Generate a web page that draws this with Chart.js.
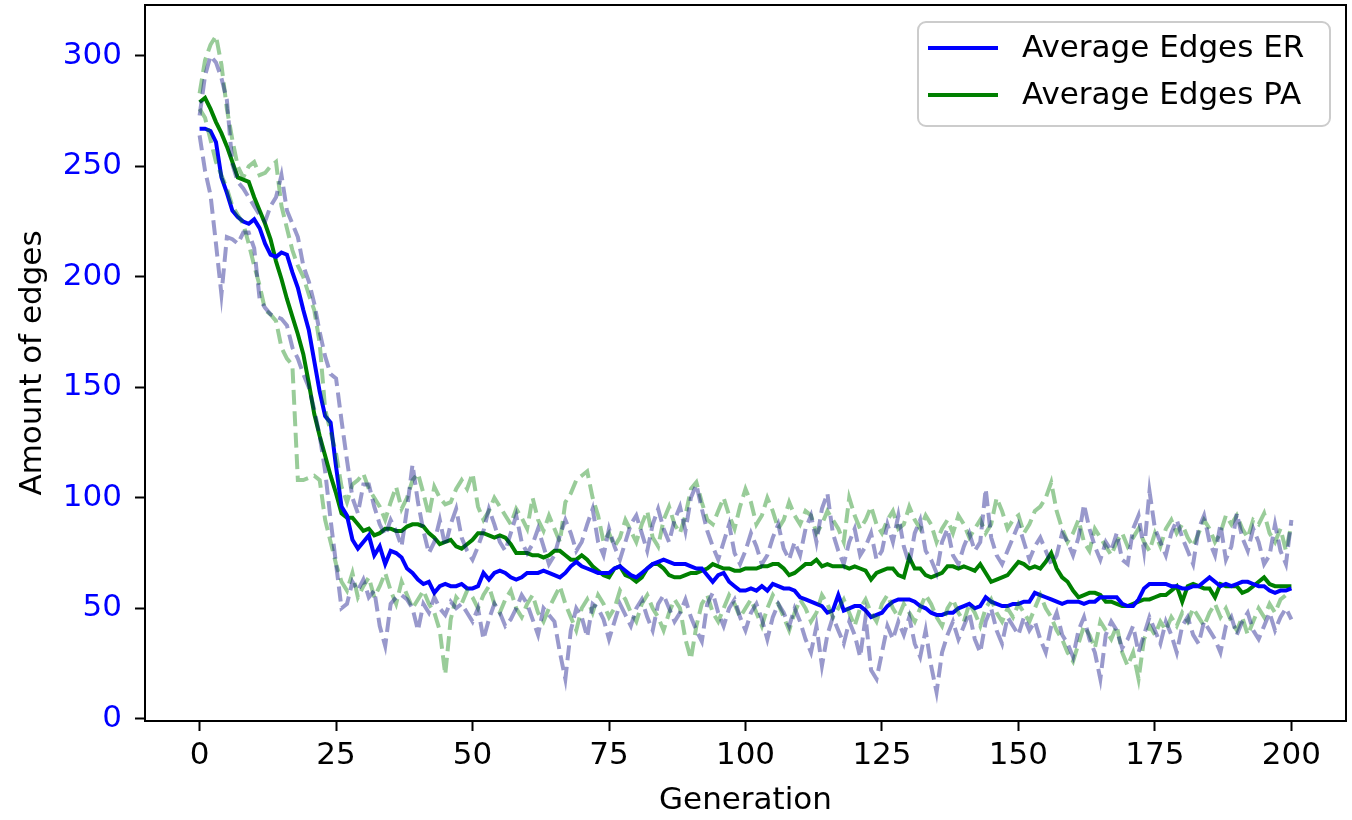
<!DOCTYPE html>
<html>
<head>
<meta charset="utf-8">
<script src="https://cdn.jsdelivr.net/npm/chart.js@4.4.1/dist/chart.umd.min.js"></script>
<style>
  body { margin: 0; background: #ffffff; }
  canvas { display: block; }
</style>
</head>
<body>
<canvas id="edges" width="1352" height="820"></canvas>
<script>
// generations 0..200
const generations = Array.from({ length: 201 }, (_, i) => i);
const xTicks = [0, 25, 50, 75, 100, 125, 150, 175, 200];
const yTicks = [0, 50, 100, 150, 200, 250, 300];

const avgER = [
  267, 267, 266, 261, 245, 238, 230, 227, 225, 224,
  226, 222, 215, 210, 209, 211, 210, 202, 195, 185,
  176, 162, 148, 137, 134, 114, 96, 92, 81, 77,
  80, 83, 74, 78, 70, 76, 75, 73, 68, 66,
  63, 61, 62, 57, 60, 61, 60, 60, 61, 59,
  59, 60, 66, 63, 66, 67, 66, 64, 63, 64,
  66, 66, 66, 67, 66, 65, 64, 66, 69, 71,
  69, 68, 67, 66, 66, 66, 68, 69, 67, 65,
  64, 66, 68, 70, 71, 72, 71, 70, 70, 70,
  69, 68, 68, 65, 62, 65, 66, 62, 60, 58,
  58, 59, 58, 60, 58, 61, 60, 59, 59, 58,
  55, 54, 53, 52, 51, 48, 49, 56, 49, 50,
  51, 51, 49, 46, 47, 48, 51, 53, 54, 54,
  54, 53, 51, 50, 48, 47, 47, 48, 48, 50,
  51, 52, 50, 51, 55, 53, 52, 51, 51, 52,
  52, 53, 53, 57, 56, 55, 54, 53, 52, 53,
  53, 53, 52, 53, 53, 55, 55, 55, 55, 52,
  51, 51, 54, 59, 61, 61, 61, 61, 60, 60,
  59, 59, 60, 60, 62, 64, 62, 60, 61, 60,
  61, 62, 62, 61, 60, 60, 58, 57, 58, 58,
  59
];

const avgPA = [
  279, 281, 276, 270, 265, 259, 252, 245, 244, 243,
  236, 230, 224, 217, 207, 199, 190, 182, 174, 165,
  152, 138, 128, 119, 110, 102, 93, 91, 91, 88,
  85, 86, 83, 84, 86, 86, 85, 85, 87, 88,
  88, 87, 84, 82, 79, 80, 81, 78, 77, 79,
  81, 84, 84, 83, 82, 83, 82, 79, 75, 75,
  75, 74, 74, 73, 74, 76, 76, 74, 72, 72,
  74, 72, 69, 67, 65, 64, 68, 69, 65, 64,
  62, 64, 68, 70, 70, 68, 65, 64, 64, 65,
  66, 66, 67, 68, 70, 69, 68, 68, 67, 67,
  68, 68, 68, 69, 69, 70, 70, 68, 65, 66,
  68, 70, 70, 72, 69, 70, 69, 69, 69, 68,
  69, 68, 67, 63, 66, 67, 68, 68, 65, 64,
  73, 68, 68, 65, 64, 65, 66, 69, 69, 68,
  69, 68, 67, 70, 66, 62, 63, 64, 65, 68,
  71, 70, 68, 69, 68, 71, 75, 68, 64, 62,
  58, 55, 56, 57, 57, 56, 53, 53, 52, 51,
  51, 52, 53, 54, 54, 55, 56, 56, 58, 60,
  53, 60, 61, 60, 59, 59, 55, 61, 60, 60,
  60, 57, 58, 60, 62, 64, 61, 60, 60, 60,
  60
];

// individual runs, dashed
const runER1 = [
  273, 291, 300, 297, 290, 280, 251, 243, 240, 236,
  232, 228, 225, 232, 236, 246, 230, 224, 218, 205,
  198, 188, 175, 164, 156, 154, 135, 117, 100, 93,
  106, 106, 96, 88, 83, 90, 85, 78, 95, 115,
  98, 85, 75, 80, 90, 78, 88, 95, 82, 76,
  72, 78, 85, 95, 88, 80, 76, 84, 92, 80,
  75, 79, 86, 78, 70, 74, 83, 90, 84, 76,
  80, 88, 95, 80, 74, 86, 78, 72, 80, 88,
  92, 84, 76, 88, 95, 86, 80, 90, 96, 85,
  100, 106, 95, 85, 78, 72, 80, 88, 75, 70,
  76, 84, 78, 70, 74, 82, 88, 77, 72, 80,
  74, 86, 92, 80, 95, 102, 84, 76, 70, 80,
  86, 74, 78, 84, 72, 76, 88, 80, 92, 78,
  70, 84, 90, 76, 72, 66, 80, 86, 74, 70,
  78, 84, 76, 80, 104, 82, 74, 70, 76, 82,
  88, 80, 72, 78, 82, 76, 70, 74, 84, 80,
  74, 82, 97, 86, 78, 72, 80, 76, 84, 72,
  70, 86, 92, 76, 103, 86, 80, 74, 84, 90,
  82, 76, 70, 86, 92, 80, 74, 88, 72, 78,
  93, 82, 76, 86, 80, 70, 74, 88, 76, 70,
  90
];

const runER2 = [
  264, 248, 237, 215, 192, 218, 217, 215, 220, 220,
  213, 190, 186, 183, 182, 181, 178, 168, 163, 156,
  150, 140, 128, 112, 90, 70, 50, 52, 62, 58,
  63, 55, 58, 42, 33, 52, 55, 56, 54, 50,
  40, 52, 48, 55, 50, 47, 53, 50, 52, 48,
  44, 50, 36, 45, 52, 48, 42, 45, 50, 56,
  52, 45, 38, 50, 47, 44, 30, 18, 40, 50,
  46, 37, 52, 50, 45, 36, 44, 52, 47, 42,
  50, 54, 46, 40, 52, 56, 50, 44, 48, 54,
  46, 40, 35, 52, 57, 48, 42, 50, 54, 46,
  40, 48, 52, 45, 36, 46, 52, 48, 42, 50,
  44, 36, 30, 42, 24, 38, 46, 40, 34, 44,
  38, 28, 46, 22, 18, 30, 42, 36, 44, 38,
  46, 34, 28, 40, 24, 12, 30, 38, 44, 36,
  42, 48, 36, 30, 44, 50, 40, 34, 46, 42,
  38, 46, 40, 44, 36, 30, 42, 48, 38, 34,
  28, 40, 46, 36, 30, 18, 38, 44, 40, 32,
  36, 42, 30, 38, 46, 40, 34, 44, 38, 30,
  42, 46, 38, 34, 44, 40, 36, 30, 42, 46,
  38, 44, 48, 40, 36, 42, 48, 40, 46, 50,
  45
];

const runPA1 = [
  283, 298, 305, 309, 296, 276, 262, 250, 245, 250,
  252, 246, 247, 250, 252, 232, 222, 212, 205, 200,
  192, 185, 170, 140, 130, 120, 105, 98, 106, 108,
  111, 104, 100, 96, 90, 98, 105, 95, 100, 108,
  111, 102, 92, 105, 100, 97, 98, 104, 108, 104,
  111, 96, 90, 94, 100, 96, 92, 88, 95, 91,
  86, 100, 90, 85, 92, 86, 80, 98, 102, 108,
  110, 112, 100, 92, 80, 84, 78, 82, 90, 85,
  80, 88, 94, 82, 78, 90, 96, 88, 84, 92,
  104, 107, 98, 90, 88, 94, 100, 92, 86, 96,
  104, 98, 88, 92, 100, 94, 86, 90, 98, 92,
  88, 94, 92, 84, 88, 94, 90, 86, 80, 100,
  92, 86, 90, 96, 88, 84, 90, 94, 86, 88,
  96, 90, 86, 92, 88, 80, 86, 90, 84, 92,
  88, 82, 86, 90, 84, 88, 100, 94, 86, 90,
  92, 84, 88, 94, 96, 100, 107, 94, 86, 80,
  84, 90, 80, 76, 86, 82, 78, 74, 80, 84,
  78, 82, 86, 80, 76, 84, 78, 86, 90, 84,
  88, 82, 78, 84, 90, 86, 80, 84, 92, 88,
  92, 86, 82, 90, 88, 93, 84, 80, 86, 76,
  88
];

const runPA2 = [
  276, 272, 262, 252, 246, 240, 232, 228, 224, 215,
  205, 196, 185, 183, 180, 168, 163, 160, 108, 108,
  109, 110, 108, 90, 80, 70, 62, 58, 66, 55,
  60, 64, 55, 60, 66, 58, 52, 62, 56, 50,
  54, 58, 52, 48, 40, 20, 45, 55, 52, 58,
  55, 50, 56, 60, 52, 48, 54, 58, 50, 46,
  52, 56, 48, 44, 50, 55, 60, 52, 46, 40,
  50, 54, 48, 56, 52, 46, 50, 58, 54, 48,
  44, 52, 56, 50, 46, 40, 48, 54, 50, 36,
  27, 42, 52, 56, 48, 44, 50, 56, 52, 46,
  50, 54, 48, 42, 50, 56, 52, 46, 40, 48,
  54, 50, 44, 48, 56, 52, 46, 50, 54, 48,
  42, 50, 54, 48, 44, 52, 56, 50, 46, 52,
  48, 44, 50, 56, 52, 46, 42, 50, 54, 48,
  44, 52, 48, 42, 50, 54, 48, 44, 50, 46,
  52, 48, 44, 50, 56, 50, 46, 40, 36, 30,
  26, 34, 42, 38, 32, 44, 40, 36, 42, 30,
  24, 30, 18, 36, 42, 38, 44, 40, 46, 42,
  48, 44, 50, 46, 42, 48, 52, 46, 50, 44,
  40, 46, 38, 44, 50, 46, 52, 48, 54, 56,
  55
];

const FONT = "'DejaVu Sans', sans-serif";

function pts(values) {
  return values.map((v, i) => ({ x: generations[i], y: v }));
}

function runLine(values, color) {
  return {
    data: pts(values),
    borderColor: color,
    borderWidth: 4,
    borderDash: [15, 6.5],
    pointRadius: 0,
    order: 0,
    inLegend: false,
  };
}

// no extra room for half tick labels, the axes box is fixed
function noPad(axis) {
  axis.paddingTop = 0;
  axis.paddingBottom = 0;
  axis.paddingLeft = 0;
  axis.paddingRight = 0;
}

// matplotlib style frame + legend in the upper right
const frameAndLegend = {
  id: "frameAndLegend",
  afterDraw(chart) {
    const ctx = chart.ctx;
    const a = chart.chartArea;
    ctx.save();
    ctx.strokeStyle = "#000";
    ctx.lineWidth = 2;
    ctx.strokeRect(a.left, a.top, a.right - a.left, a.bottom - a.top);

    const items = chart.data.datasets.filter((d) => d.inLegend);
    const w = 412, h = 104, r = 8;
    const x = a.right - 16 - w, y = a.top + 17;
    ctx.beginPath();
    ctx.moveTo(x + r, y);
    ctx.arcTo(x + w, y, x + w, y + h, r);
    ctx.arcTo(x + w, y + h, x, y + h, r);
    ctx.arcTo(x, y + h, x, y, r);
    ctx.arcTo(x, y, x + w, y, r);
    ctx.closePath();
    ctx.fillStyle = "rgba(255,255,255,0.8)";
    ctx.fill();
    ctx.strokeStyle = "#cccccc";
    ctx.lineWidth = 2;
    ctx.stroke();

    ctx.font = "31px " + FONT;
    ctx.textBaseline = "middle";
    ctx.fillStyle = "#000";
    items.forEach((d, i) => {
      const cy = y + 26 + i * 47;
      ctx.beginPath();
      ctx.strokeStyle = d.borderColor;
      ctx.lineWidth = 4;
      ctx.moveTo(x + 10, cy);
      ctx.lineTo(x + 80, cy);
      ctx.stroke();
      ctx.fillText(d.label, x + 104, cy + 1);
    });
    ctx.restore();
  },
};

new Chart(document.getElementById("edges"), {
  type: "line",
  data: {
    datasets: [
      {
        label: "Average Edges ER",
        data: pts(avgER),
        borderColor: "#0000ff",
        borderWidth: 4,
        pointRadius: 0,
        order: 1,
        inLegend: true,
      },
      {
        label: "Average Edges PA",
        data: pts(avgPA),
        borderColor: "#008000",
        borderWidth: 4,
        pointRadius: 0,
        order: 1,
        inLegend: true,
      },
      runLine(runER1, "rgba(0,0,128,0.4)"),
      runLine(runER2, "rgba(0,0,128,0.4)"),
      runLine(runPA1, "rgba(0,128,0,0.4)"),
      runLine(runPA2, "rgba(0,128,0,0.4)"),
    ],
  },
  options: {
    responsive: false,
    animation: false,
    devicePixelRatio: 1,
    layout: { padding: { top: 5, right: 6, left: 0, bottom: 0 } },
    plugins: {
      legend: { display: false },
      tooltip: { enabled: false },
    },
    scales: {
      x: {
        type: "linear",
        min: -10,
        max: 210,
        afterBuildTicks: (axis) => {
          axis.ticks = xTicks.map((v) => ({ value: v }));
        },
        afterFit: (axis) => {
          axis.height = 99;
          noPad(axis);
        },
        grid: {
          drawOnChartArea: false,
          drawTicks: true,
          tickLength: 10,
          tickWidth: 2,
          tickColor: "#000",
        },
        border: { display: true, color: "#000", width: 2 },
        ticks: {
          color: "#000",
          font: { family: FONT, size: 31 },
          padding: 6,
          maxRotation: 0,
          autoSkip: false,
        },
        title: {
          display: true,
          text: "Generation",
          color: "#000",
          font: { family: FONT, size: 31 },
          padding: { top: -3, bottom: 0 },
        },
      },
      y: {
        type: "linear",
        min: -1,
        max: 323,
        afterBuildTicks: (axis) => {
          axis.ticks = yTicks.map((v) => ({ value: v }));
        },
        afterFit: (axis) => {
          axis.width = 145;
          noPad(axis);
        },
        grid: {
          drawOnChartArea: false,
          drawTicks: true,
          tickLength: 10,
          tickWidth: 2,
          tickColor: "#000",
        },
        border: { display: true, color: "#000", width: 2 },
        ticks: {
          color: "#0000ff",
          font: { family: FONT, size: 31 },
          padding: 13,
          autoSkip: false,
        },
        title: {
          display: true,
          text: "Amount of edges",
          color: "#000",
          font: { family: FONT, size: 31 },
          padding: { top: 14, bottom: 0 },
        },
      },
    },
  },
  plugins: [frameAndLegend],
});
</script>
</body>
</html>
